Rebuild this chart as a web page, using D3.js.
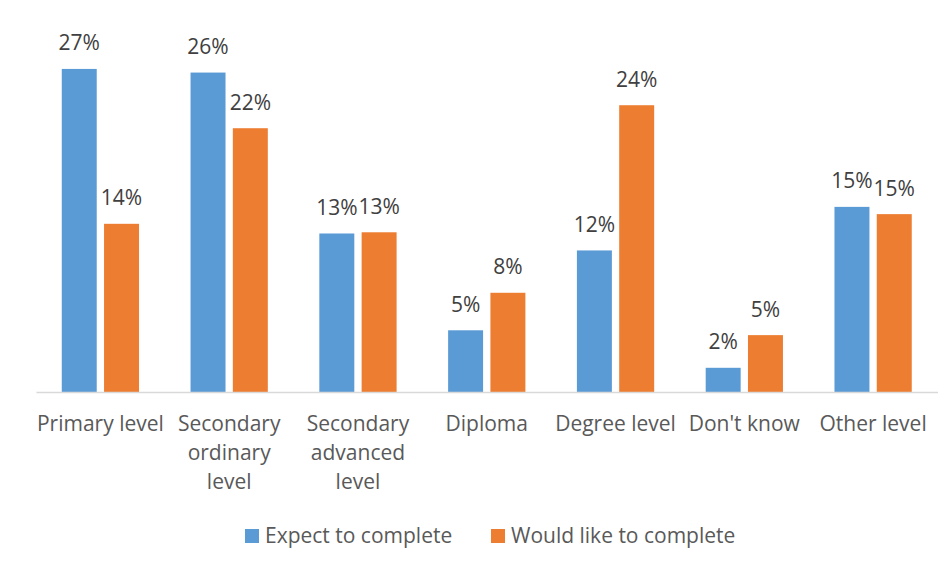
<!DOCTYPE html>
<html>
<head>
<meta charset="utf-8">
<script src="https://cdn.jsdelivr.net/npm/d3@7"></script>
<style>
  html, body { margin: 0; padding: 0; background: #ffffff; }
  svg { display: block; }
</style>
</head>
<body>
<svg id="chart" width="952" height="569"></svg>
<script>
// ---- data ----
const categories = ["Primary level", "Secondary ordinary level", "Secondary advanced level", "Diploma", "Degree level", "Don't know", "Other level"];
const seriesNames = ["Expect to complete", "Would like to complete"];
const expectValues = [26.7, 26.4, 13.1, 5.1, 11.7, 2.0, 15.3];
const wouldLikeValues = [13.9, 21.8, 13.2, 8.2, 23.7, 4.7, 14.7];
const seriesColors = ["#5B9BD5", "#ED7D31"];

const seriesValues = [expectValues, wouldLikeValues];

const svg = d3.select("#chart");
const fontFamily = "'Open Sans', 'DejaVu Sans', sans-serif";
const fs = 21;

const x0 = d3.scaleBand().domain(categories).range([36, 937.5]).paddingInner(0.4).paddingOuter(0.2);
const x1 = d3.scaleBand().domain(seriesNames).range([0, x0.bandwidth()]).paddingInner(0.173);
const y = d3.scaleLinear().domain([0, 30]).range([392, 29]);

// bars
const groups = svg.append("g").selectAll("g")
  .data(categories)
  .join("g")
  .attr("transform", d => `translate(${x0(d)},0)`);

groups.selectAll("rect")
  .data((c, i) => seriesNames.map((s, j) => ({ s, j, v: seriesValues[j][i] })))
  .join("rect")
  .attr("x", d => x1(d.s))
  .attr("y", d => y(d.v))
  .attr("width", x1.bandwidth())
  .attr("height", d => y(0) - y(d.v))
  .attr("fill", d => seriesColors[d.j]);

groups.selectAll("text.val")
  .data((c, i) => seriesNames.map((s, j) => ({ s, j, v: seriesValues[j][i] })))
  .join("text")
  .attr("class", "val")
  .attr("x", d => x1(d.s) + x1.bandwidth() / 2)
  .attr("y", d => y(d.v) - 18.5)
  .attr("text-anchor", "middle")
  .attr("font-family", fontFamily)
  .attr("font-size", fs)
  .attr("fill", "#404040")
  .text(d => Math.round(d.v) + "%");

// axis
const xAxis = svg.append("g")
  .attr("transform", `translate(0,${y(0)})`)
  .call(d3.axisBottom(x0).tickSize(0).tickPadding(0));
xAxis.select(".domain").attr("stroke", "#D9D9D9").attr("stroke-width", 1.5);
xAxis.selectAll(".tick text").remove();

// category labels with wrapping
const labelG = svg.append("g");
categories.forEach(c => {
  const cx = x0(c) + x0.bandwidth() / 2;
  const t = labelG.append("text")
    .attr("x", cx).attr("y", 431)
    .attr("text-anchor", "middle")
    .attr("font-family", fontFamily)
    .attr("font-size", fs)
    .attr("fill", "#595959");
  const words = c.split(" ");
  const maxW = x0.step() - 1;
  let lines = [];
  let line = [];
  const probe = t.append("tspan");
  words.forEach(w => {
    const test = line.concat([w]).join(" ");
    probe.text(test);
    if (probe.node().getComputedTextLength() > maxW && line.length) {
      lines.push(line.join(" "));
      line = [w];
    } else {
      line.push(w);
    }
  });
  lines.push(line.join(" "));
  probe.remove();
  lines.forEach((l, k) => {
    t.append("tspan").attr("x", cx).attr("dy", k === 0 ? 0 : 29).text(l);
  });
});

// legend
const legendItems = [
  { name: seriesNames[0], color: seriesColors[0], x: 245 },
  { name: seriesNames[1], color: seriesColors[1], x: 491 }
];
const lg = svg.append("g");
legendItems.forEach(it => {
  lg.append("rect").attr("x", it.x).attr("y", 529).attr("width", 14).attr("height", 14).attr("fill", it.color);
  lg.append("text").attr("x", it.x + 20).attr("y", 543)
    .attr("font-family", fontFamily).attr("font-size", fs).attr("fill", "#595959")
    .text(it.name);
});
</script>
</body>
</html>
